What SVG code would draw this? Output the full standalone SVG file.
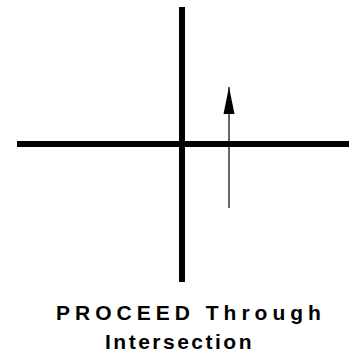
<svg xmlns="http://www.w3.org/2000/svg" width="352" height="358" viewBox="0 0 352 358">
<style>
.road{fill:#000}
.lbl{font-family:"Liberation Sans",Arial,sans-serif;font-weight:bold;font-size:21px;fill:#000;text-anchor:middle}
</style>
<g id="roads">
<rect id="horizontal-road" class="road" x="17" y="141" width="332" height="6"/>
<rect id="vertical-road" class="road" x="179" y="7" width="6" height="275"/>
</g>
<g id="connectors">
<line x1="229" y1="208" x2="229" y2="87" stroke="#000" stroke-width="1.2"/>
<path d="M229 87 L234.5 114 L223.5 114 Z" fill="#000"/>
</g>
<g id="label">
<text class="lbl" x="191" y="320" letter-spacing="5">PROCEED Through</text>
<text class="lbl" x="179.5" y="349" letter-spacing="2.5">Intersection</text>
</g>
</svg>
